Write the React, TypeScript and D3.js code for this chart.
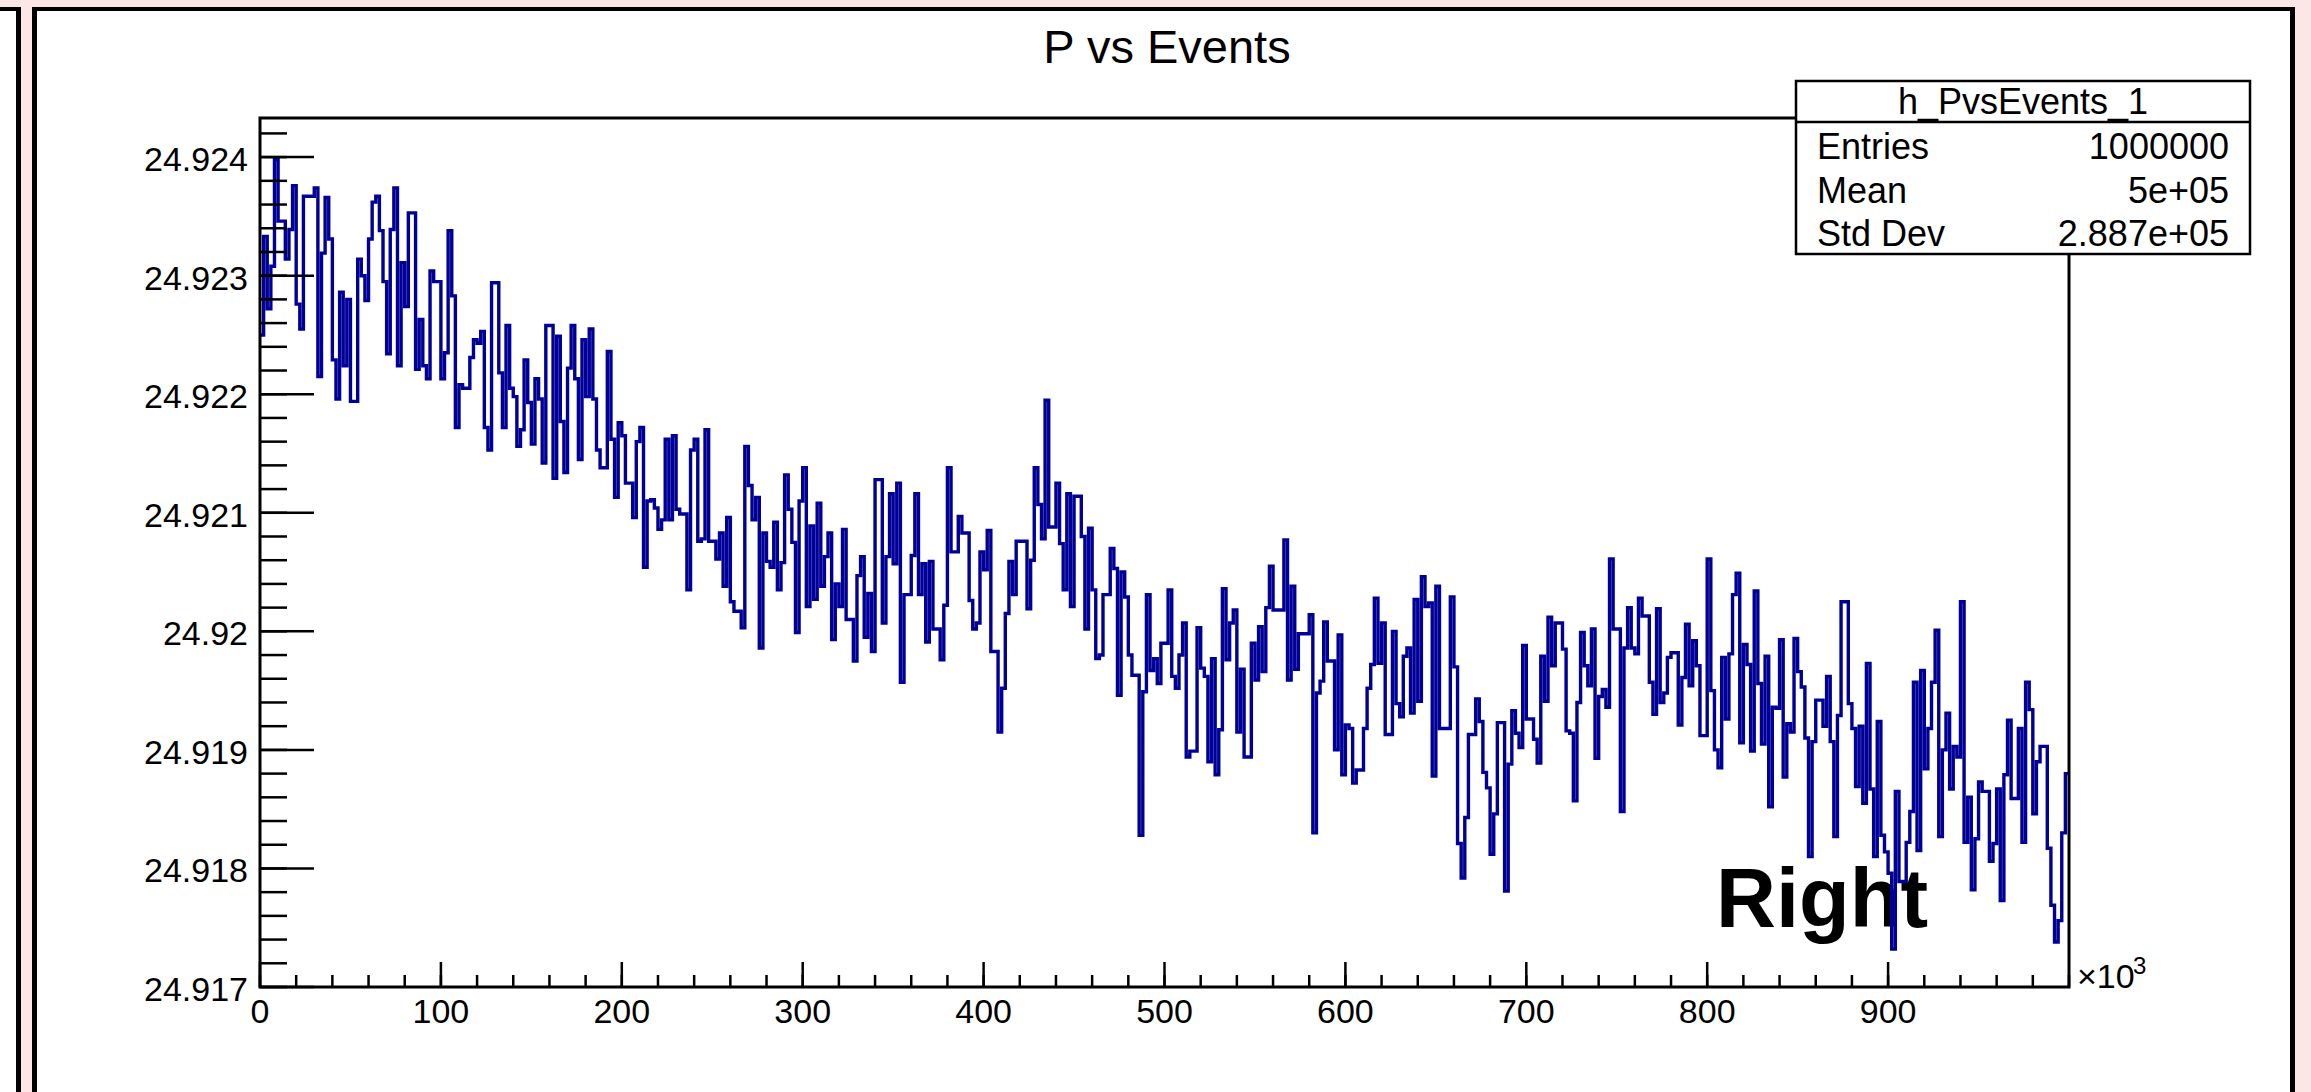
import React from "react";
import * as d3 from "d3";

// ---- data (P values per bin, x in units of 10^3 events) ----
const titleText = "P vs Events";
const xDomain = [0, 1000];
const yDomain = [24.917, 24.92433];

const pSeg1 = [
  24.9225, 24.92333, 24.92272, 24.92308, 24.92398, 24.92346, 24.92346, 24.92314, 24.92339, 24.92376,
  24.92276, 24.92255, 24.92367, 24.92367, 24.92367, 24.92374, 24.92215, 24.92319, 24.92366, 24.92331,
  24.92229, 24.92196, 24.92286, 24.92224, 24.9228, 24.92194, 24.92194, 24.92314, 24.923, 24.92279,
  24.92331, 24.92362, 24.92367, 24.92338, 24.92295, 24.92234, 24.92339, 24.92374, 24.92224, 24.92311,
  24.92274, 24.92353, 24.92353, 24.92221, 24.92263, 24.92224, 24.92213, 24.92304, 24.92295, 24.92295,
  24.92213, 24.92235, 24.92338, 24.92283, 24.92172, 24.92208, 24.92205, 24.92205, 24.92231, 24.92246,
  24.92243, 24.92253, 24.92172, 24.92153, 24.92294, 24.92294, 24.92218, 24.92172, 24.92258, 24.92205,
  24.92198, 24.92156, 24.9217, 24.92229, 24.92193, 24.92158, 24.92213, 24.92196, 24.92142, 24.92258,
  24.92258, 24.92129, 24.92249, 24.92177,
];
const pSeg2 = [
  24.92134, 24.92222, 24.92258, 24.92213, 24.92145, 24.92246, 24.92198, 24.92255, 24.92196, 24.92153,
  24.92138, 24.92138, 24.92236, 24.92162, 24.92113, 24.92176, 24.92165, 24.92125, 24.92125, 24.92096,
  24.9216, 24.92172, 24.92054, 24.9211, 24.92111, 24.92104, 24.92086, 24.92094, 24.92162, 24.92094,
  24.92165, 24.92103, 24.92099, 24.92099, 24.92035, 24.92153, 24.92162, 24.92076, 24.92078, 24.9217,
  24.92076, 24.92076, 24.92061, 24.92083, 24.92038, 24.92096, 24.92025, 24.92017, 24.92017, 24.92003,
  24.92156, 24.92123, 24.92094, 24.92113, 24.91986, 24.92083, 24.92059, 24.92054, 24.92092, 24.92035,
  24.92058, 24.92132, 24.92103, 24.92075, 24.91999, 24.9211, 24.92138, 24.92021, 24.92089, 24.92027,
  24.92108, 24.92038, 24.92063, 24.92083, 24.91993, 24.9204, 24.92021, 24.92086, 24.9201, 24.9201,
  24.91975,
];
const pSeg3 = [
  24.92047, 24.92063, 24.91995, 24.92032, 24.91983, 24.92128, 24.92128, 24.92007, 24.92063, 24.92116,
  24.92057, 24.92125, 24.91957, 24.92031, 24.92031, 24.92064, 24.92116, 24.92031, 24.92057, 24.91991,
  24.92059, 24.92002, 24.92002, 24.91976, 24.92022, 24.92138, 24.92067, 24.92067, 24.92097, 24.92083,
  24.92083, 24.92026, 24.92002, 24.92007, 24.92067, 24.92052, 24.92085, 24.91983, 24.91983, 24.91915,
  24.91952, 24.92015, 24.92059, 24.92031, 24.92076, 24.92076, 24.92076, 24.92019, 24.9206, 24.92138,
  24.92107, 24.92078, 24.92195, 24.92088, 24.92088, 24.92125, 24.92074, 24.92035, 24.92116, 24.92021,
  24.92114, 24.92114, 24.9208, 24.92002, 24.92087, 24.92035, 24.91977, 24.9198, 24.92031, 24.92031,
  24.9207, 24.92053, 24.91946, 24.9205, 24.92029, 24.9198, 24.91963, 24.91963, 24.91828, 24.91949,
  24.92031, 24.91967, 24.91977, 24.91956, 24.9199,
];
const pSeg4 = [
  24.9199, 24.92035, 24.91962, 24.91952, 24.9198, 24.92007, 24.91894, 24.91899, 24.91899, 24.92003,
  24.91969, 24.91962, 24.9189, 24.91977, 24.91879, 24.91917, 24.92036, 24.91976, 24.92007, 24.92018,
  24.91915, 24.91968, 24.91894, 24.91894, 24.9199, 24.91959, 24.92004, 24.91966, 24.9202, 24.92055,
  24.92018, 24.92018, 24.92018, 24.92077, 24.91959, 24.92038, 24.91968, 24.91998, 24.91998, 24.91998,
  24.92014, 24.9183, 24.91948, 24.91958, 24.92008, 24.91975, 24.91975, 24.919, 24.91997, 24.91879,
  24.91921, 24.91918, 24.91872, 24.91883, 24.91883, 24.91918, 24.91952, 24.91972, 24.92028, 24.91973,
  24.92007, 24.91913, 24.91913, 24.92, 24.91939, 24.91928, 24.91979, 24.91986, 24.91931, 24.92027,
  24.91941, 24.92046, 24.92021, 24.92024, 24.91878, 24.92038, 24.91918, 24.91918, 24.91918, 24.92029,
  24.9197, 24.91821, 24.91792,
];
const pSeg5 = [
  24.91843, 24.91913, 24.91913, 24.91943, 24.91924, 24.91881, 24.91868, 24.91812, 24.91846, 24.91923,
  24.91923, 24.91781, 24.91888, 24.91933, 24.91914, 24.91902, 24.91988, 24.91926, 24.91926, 24.91909,
  24.91889, 24.91979, 24.91941, 24.92012, 24.91971, 24.92007, 24.92007, 24.91985, 24.91916, 24.91914,
  24.91857, 24.9194, 24.91999, 24.91971, 24.91954, 24.92002, 24.91893, 24.91945, 24.91951, 24.91936,
  24.92061, 24.92002, 24.92002, 24.91848, 24.91986, 24.9202, 24.91986, 24.91981, 24.92028, 24.92013,
  24.92013, 24.91957, 24.9193, 24.92019, 24.9194, 24.91948, 24.91978, 24.91982, 24.91982, 24.91921,
  24.91961, 24.92006, 24.91954, 24.91992, 24.91971, 24.91912, 24.91912, 24.92061, 24.9195, 24.919,
  24.91885, 24.91978, 24.91926, 24.91981, 24.92031, 24.92049, 24.91906, 24.91989, 24.91972, 24.91899,
  24.92034,
];
const pSeg6 = [
  24.91956, 24.91905, 24.91979, 24.91852, 24.91936, 24.91935, 24.91993, 24.91877, 24.91922, 24.91915,
  24.91994, 24.91966, 24.91953, 24.9191, 24.9181, 24.91907, 24.91942, 24.91942, 24.9192, 24.91962,
  24.91907, 24.91827, 24.91929, 24.92025, 24.92025, 24.91939, 24.91918, 24.91869, 24.9192, 24.91855,
  24.91973, 24.91867, 24.9181, 24.91924, 24.91828, 24.91814, 24.91796, 24.91732, 24.91865, 24.91789,
  24.91789, 24.91822, 24.91848, 24.91957, 24.91815, 24.91967, 24.91884, 24.91918, 24.91957, 24.92001,
  24.91827, 24.919, 24.91931, 24.91867, 24.91903, 24.91894, 24.92025, 24.91822, 24.9186, 24.91782,
  24.91825, 24.91873, 24.91865, 24.91865, 24.91806, 24.91821, 24.91867, 24.91773, 24.91879, 24.91925,
  24.91859, 24.91859, 24.91918, 24.91822, 24.91957, 24.91934, 24.91846, 24.9189, 24.91903, 24.91903,
  24.91817, 24.91769, 24.91738, 24.91756, 24.9183, 24.9188,
];
const pValues = [...pSeg1, ...pSeg2, ...pSeg3, ...pSeg4, ...pSeg5, ...pSeg6];

const yMajorTicks = [24.917, 24.918, 24.919, 24.92, 24.921, 24.922, 24.923, 24.924];
const yTickLabels = ["24.917", "24.918", "24.919", "24.92", "24.921", "24.922", "24.923", "24.924"];
const xMajorTicks = [0, 100, 200, 300, 400, 500, 600, 700, 800, 900];
const xTickLabels = ["0", "100", "200", "300", "400", "500", "600", "700", "800", "900"];

const statsName = "h_PvsEvents_1";
const statsKeys = ["Entries", "Mean", "Std Dev"];
const statsVals = ["1000000", "5e+05", "2.887e+05"];
const padLabel = "Right";

// ---- layout ----
const W = 2311;
const H = 1092;
const PL = 260, PR = 2069, PT = 118, PB = 987;
const FONT = "'Liberation Sans', Arial, Helvetica, sans-serif";
const LINE = "#000099";
const PINK = "#fde6e6";

export default function App() {
  const x = d3.scaleLinear().domain(xDomain).range([PL, PR]);
  const y = d3.scaleLinear().domain(yDomain).range([PB, PT]);
  const n = pValues.length;
  const bw = (xDomain[1] - xDomain[0]) / n;
  const pts: [number, number][] = pValues.map((v, i) => [xDomain[0] + i * bw, v]);
  pts.push([xDomain[1], pValues[n - 1]]);
  const line = d3
    .line<[number, number]>()
    .x((d) => x(d[0]))
    .y((d) => y(d[1]))
    .curve(d3.curveStepAfter);

  const yMinor: number[] = [];
  for (let k = 0; ; k++) {
    const v = yDomain[0] + k * 0.0002;
    if (v > yDomain[1] + 1e-9) break;
    yMinor.push(v);
  }
  const xMinor: number[] = [];
  for (let v = xDomain[0]; v <= xDomain[1] + 1e-9; v += 20) xMinor.push(v);

  const sx0 = 1796, sx1 = 2250, sy0 = 81, sy1 = 254, sHead = 122;

  return (
    <svg
      width={W}
      height={H}
      style={{ position: "absolute", left: 0, top: 0, display: "block" }}
      fontFamily={FONT}
    >
      <rect x={0} y={0} width={W} height={H} fill={PINK} />
      <rect x={-10} y={7} width={31} height={H} fill="#000" />
      <rect x={-10} y={11} width={26} height={H} fill="#fff" />
      <rect x={32} y={7} width={2263} height={H} fill="#000" />
      <rect x={37} y={11} width={2253} height={H} fill="#fff" />

      <text x={1167} y={63} fontSize={47} textAnchor="middle" fill="#000">
        {titleText}
      </text>

      <text x={1716} y={927} fontSize={83} fontWeight="bold" fill="#000">
        {padLabel}
      </text>

      <path d={line(pts) || ""} fill="none" stroke={LINE} strokeWidth={3.4} strokeLinejoin="miter" />

      <rect x={PL} y={PT} width={PR - PL} height={PB - PT} fill="none" stroke="#000" strokeWidth={3} />

      {yMinor.map((v, i) => (
        <line key={"ym" + i} x1={PL} x2={PL + 27} y1={y(v)} y2={y(v)} stroke="#000" strokeWidth={2.5} />
      ))}
      {yMajorTicks.map((v, i) => (
        <g key={"yM" + i}>
          <line x1={PL} x2={PL + 54} y1={y(v)} y2={y(v)} stroke="#000" strokeWidth={2.5} />
          <text x={248} y={y(v) + 14} fontSize={34} textAnchor="end" fill="#000">
            {yTickLabels[i]}
          </text>
        </g>
      ))}

      {xMinor.map((v, i) => (
        <line key={"xm" + i} x1={x(v)} x2={x(v)} y1={PB} y2={PB - 12} stroke="#000" strokeWidth={2.5} />
      ))}
      {xMajorTicks.map((v, i) => (
        <g key={"xM" + i}>
          <line x1={x(v)} x2={x(v)} y1={PB} y2={PB - 25} stroke="#000" strokeWidth={2.5} />
          <text x={x(v)} y={1023} fontSize={34} textAnchor="middle" fill="#000">
            {xTickLabels[i]}
          </text>
        </g>
      ))}
      <text x={2077} y={988} fontSize={34} fill="#000">
        ×10
      </text>
      <text x={2133} y={974} fontSize={24} fill="#000">
        3
      </text>

      <rect x={sx0} y={sy0} width={sx1 - sx0} height={sy1 - sy0} fill="#fff" stroke="#000" strokeWidth={2.5} />
      <line x1={sx0} x2={sx1} y1={sHead} y2={sHead} stroke="#000" strokeWidth={2.5} />
      <text x={(sx0 + sx1) / 2} y={114} fontSize={36} textAnchor="middle" fill="#000">
        {statsName}
      </text>
      {statsKeys.map((k, i) => (
        <g key={"s" + i}>
          <text x={1817} y={159 + i * 43.5} fontSize={36} fill="#000">
            {k}
          </text>
          <text x={2229} y={159 + i * 43.5} fontSize={36} textAnchor="end" fill="#000">
            {statsVals[i]}
          </text>
        </g>
      ))}
    </svg>
  );
}
